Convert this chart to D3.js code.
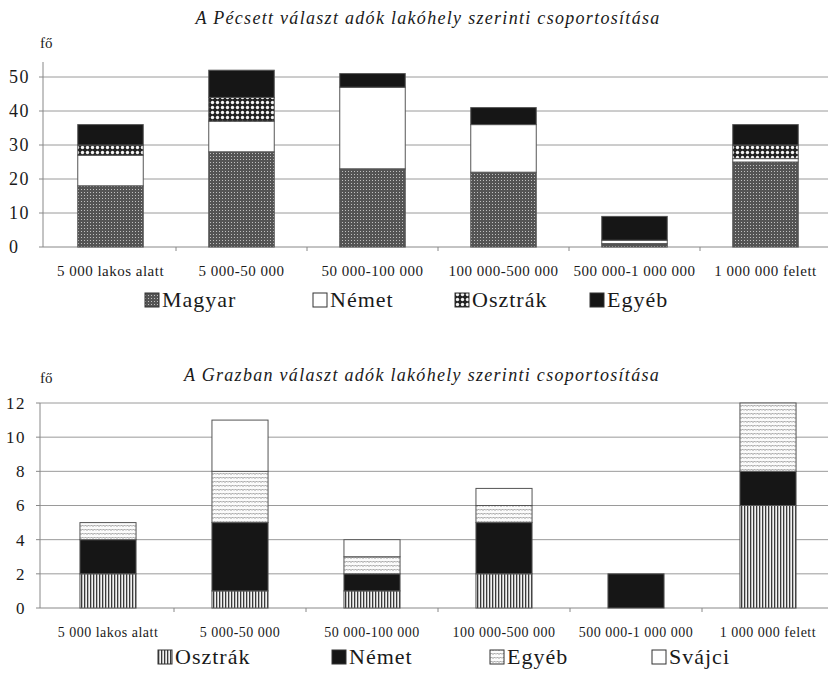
<!DOCTYPE html>
<html>
<head>
<meta charset="utf-8">
<script src="https://cdn.jsdelivr.net/npm/d3@7"></script>
<style>
body { margin: 0; background: #fff; }
text { font-family: "Liberation Serif", "Times New Roman", serif; fill: #1a1a1a; }
</style>
</head>
<body>
<svg id="chart" width="828" height="675"></svg>
<script>
// categories (lakóhely mérete)
var categories = ['5 000 lakos alatt', '5 000-50 000', '50 000-100 000', '100 000-500 000', '500 000-1 000 000', '1 000 000 felett'];

// Pécs
var pecsSeries = ['Magyar', 'Német', 'Osztrák', 'Egyéb'];
var pecsMagyar  = [18, 28, 23, 22, 1, 25];
var pecsNemet   = [9, 9, 24, 14, 1, 1];
var pecsOsztrak = [3, 7, 0, 0, 0, 4];
var pecsEgyeb   = [6, 8, 4, 5, 7, 6];
var pecsTicks = [0, 10, 20, 30, 40, 50];

// Graz
var grazSeries = ['Osztrák', 'Német', 'Egyéb', 'Svájci'];
var grazOsztrak = [2, 1, 1, 2, 0, 6];
var grazNemet   = [2, 4, 1, 3, 2, 2];
var grazEgyeb   = [1, 3, 1, 1, 0, 4];
var grazSvajci  = [0, 3, 1, 1, 0, 0];
var grazTicks = [0, 2, 4, 6, 8, 10, 12];

var svg = d3.select('#chart');
var defs = svg.append('defs');

// fill patterns, imitating the printed hatchings
var p = defs.append('pattern').attr('id', 'pMagyar').attr('width', 3).attr('height', 3).attr('patternUnits', 'userSpaceOnUse');
p.append('rect').attr('width', 3).attr('height', 3).attr('fill', '#545454');
p.append('rect').attr('width', 1).attr('height', 1).attr('fill', '#c0c0c0');

p = defs.append('pattern').attr('id', 'pOsztrakTop').attr('width', 5).attr('height', 5).attr('patternUnits', 'userSpaceOnUse');
p.append('rect').attr('width', 5).attr('height', 5).attr('fill', '#222');
p.append('circle').attr('cx', 2.5).attr('cy', 2.5).attr('r', 1.7).attr('fill', '#f4f4f4');

p = defs.append('pattern').attr('id', 'pOsztrakBot').attr('width', 3).attr('height', 3).attr('patternUnits', 'userSpaceOnUse');
p.append('rect').attr('width', 3).attr('height', 3).attr('fill', '#f2f2f2');
p.append('rect').attr('width', 1.3).attr('height', 3).attr('fill', '#3a3a3a');

p = defs.append('pattern').attr('id', 'pEgyebBot').attr('width', 6).attr('height', 4).attr('patternUnits', 'userSpaceOnUse');
p.append('rect').attr('width', 6).attr('height', 4).attr('fill', '#fbfbfb');
p.append('path').attr('d', 'M0 2.5 L1.5 1 L3 2.5 L4.5 1 L6 2.5').attr('fill', 'none').attr('stroke', '#8a8a8a').attr('stroke-width', 0.9);

var drawChart = function(cfg) {
  var rows = categories.map(function(c, i) {
    var r = {cat: c};
    cfg.series.forEach(function(s, k) { r[s] = cfg.values[k][i]; });
    return r;
  });
  var stacked = d3.stack().keys(cfg.series)(rows);

  var x = d3.scaleBand().domain(categories).range(cfg.xRange).paddingInner(cfg.pad).paddingOuter(cfg.pad / 2);
  var y = d3.scaleLinear().domain(cfg.yDomain).range([cfg.y0, cfg.yTop]);
  var bandW = x.step();

  var g = svg.append('g');

  // gridlines
  g.selectAll('.grid').data(cfg.ticks.slice(1)).join('line')
    .attr('x1', cfg.axisX).attr('x2', 828)
    .attr('y1', function(d) { return y(d); }).attr('y2', function(d) { return y(d); })
    .attr('stroke', '#9a9a9a').attr('stroke-width', 1);

  // y axis
  g.append('line').attr('x1', cfg.axisX).attr('x2', cfg.axisX)
    .attr('y1', cfg.y0).attr('y2', cfg.axisTop).attr('stroke', '#888');
  g.selectAll('.ytick').data(cfg.ticks).join('line')
    .attr('x1', cfg.axisX - 4).attr('x2', cfg.axisX)
    .attr('y1', function(d) { return y(d); }).attr('y2', function(d) { return y(d); })
    .attr('stroke', '#888');
  g.selectAll('.ylab').data(cfg.ticks).join('text')
    .attr('x', cfg.yLabX).attr('y', function(d) { return y(d); })
    .attr('dy', '0.35em').attr('text-anchor', cfg.yLabAnchor)
    .style('font-size', cfg.yFont + 'px').style('letter-spacing', '1.5px')
    .text(function(d) { return d; });

  // x axis
  g.append('line').attr('x1', cfg.axisX).attr('x2', 828)
    .attr('y1', cfg.y0).attr('y2', cfg.y0).attr('stroke', '#888');
  g.selectAll('.xtick').data(d3.range(1, categories.length + 1)).join('line')
    .attr('x1', function(d) { return cfg.xRange[0] + d * bandW; })
    .attr('x2', function(d) { return cfg.xRange[0] + d * bandW; })
    .attr('y1', cfg.y0).attr('y2', cfg.y0 + 4).attr('stroke', '#888');
  g.selectAll('.xlab').data(categories).join('text')
    .attr('x', function(d) { return x(d) + x.bandwidth() / 2; })
    .attr('y', cfg.xLabY).attr('text-anchor', 'middle')
    .style('font-size', cfg.xFont + 'px').style('letter-spacing', '0.5px')
    .text(function(d) { return d; });

  // bars
  g.selectAll('.layer').data(stacked).join('g')
    .attr('fill', function(d, i) { return cfg.fills[i]; })
    .selectAll('rect').data(function(d) { return d; }).join('rect')
      .attr('x', function(d) { return x(d.data.cat); })
      .attr('width', x.bandwidth())
      .attr('y', function(d) { return y(d[1]); })
      .attr('height', function(d) { return y(d[0]) - y(d[1]); })
      .attr('stroke', '#555').attr('stroke-width', 1)
      .attr('visibility', function(d) { return d[1] - d[0] > 0 ? 'visible' : 'hidden'; });

  // title and unit
  g.append('text').attr('x', cfg.titleX).attr('y', cfg.titleY).attr('text-anchor', 'middle')
    .style('font-size', '18px').style('font-style', 'italic').style('letter-spacing', '1.3px')
    .text(cfg.title);
  g.append('text').attr('x', 40).attr('y', cfg.unitY).style('font-size', '15px').text('fő');

  // legend
  var leg = g.selectAll('.leg').data(cfg.series).join('g')
    .attr('transform', function(d, i) { return 'translate(' + cfg.legendX[i] + ',' + cfg.legendY + ')'; });
  leg.append('rect').attr('x', 0).attr('y', -14).attr('width', 14).attr('height', 14)
    .attr('fill', function(d, i) { return cfg.fills[i]; })
    .attr('stroke', '#333').attr('stroke-width', 1);
  leg.append('text').attr('x', 17).attr('y', 0)
    .style('font-size', '22px').style('letter-spacing', '1px')
    .text(function(d) { return d; });
};

drawChart({
  title: 'A Pécsett választ adók lakóhely szerinti csoportosítása',
  series: pecsSeries,
  values: [pecsMagyar, pecsNemet, pecsOsztrak, pecsEgyeb],
  fills: ['url(#pMagyar)', '#ffffff', 'url(#pOsztrakTop)', '#161616'],
  ticks: pecsTicks,
  yDomain: [0, 55], y0: 247, yTop: 60, axisTop: 62,
  xRange: [45, 831], pad: 0.5, axisX: 43,
  yLabX: 9, yLabAnchor: 'start', yFont: 18,
  xLabY: 276, xFont: 15,
  titleX: 428, titleY: 24, unitY: 48,
  legendX: [145, 313, 455, 590], legendY: 307
});

drawChart({
  title: 'A Grazban választ adók lakóhely szerinti csoportosítása',
  series: grazSeries,
  values: [grazOsztrak, grazNemet, grazEgyeb, grazSvajci],
  fills: ['url(#pOsztrakBot)', '#161616', 'url(#pEgyebBot)', '#ffffff'],
  ticks: grazTicks,
  yDomain: [0, 12], y0: 608, yTop: 403, axisTop: 403,
  xRange: [42, 834], pad: 0.575, axisX: 40,
  yLabX: 26, yLabAnchor: 'end', yFont: 17,
  xLabY: 637, xFont: 14,
  titleX: 422, titleY: 381, unitY: 383,
  legendX: [158, 332, 490, 652], legendY: 664
});
</script>
</body>
</html>
